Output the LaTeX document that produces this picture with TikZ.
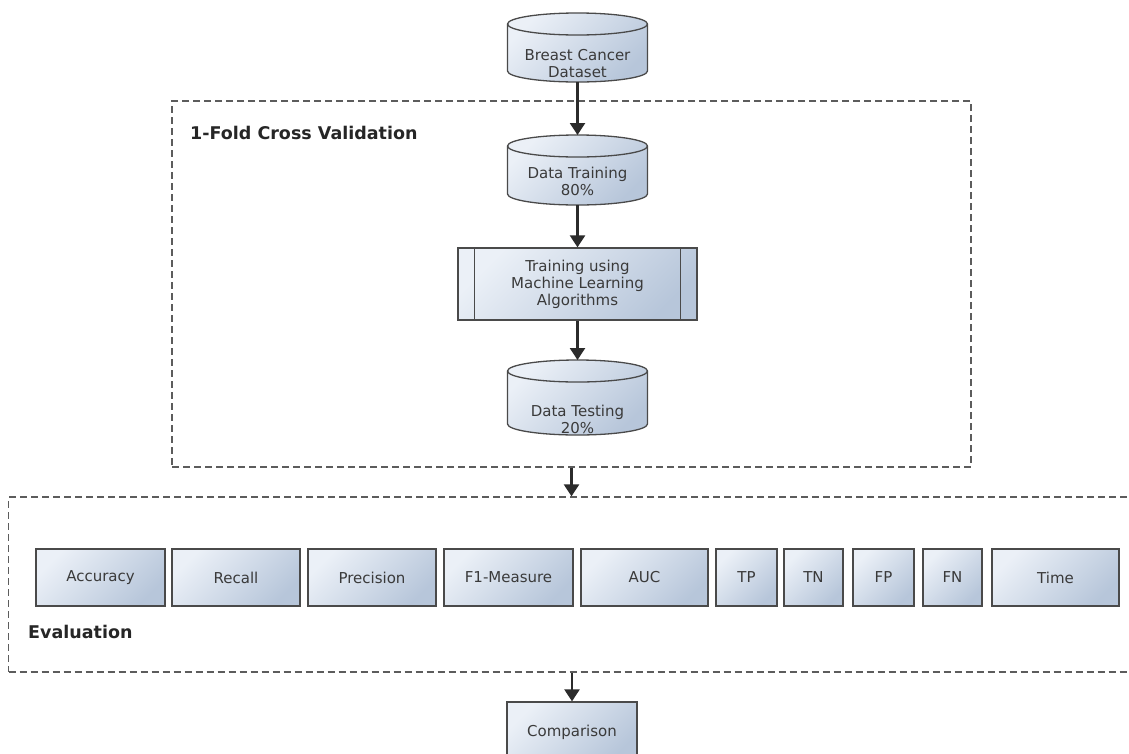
\documentclass[tikz,border=0pt]{standalone}
\usepackage{fontspec}
\setmainfont{DejaVu Sans}
\usetikzlibrary{arrows.meta,calc}
\definecolor{boxline}{HTML}{4A4A4A}
\definecolor{fillA}{HTML}{EBF0F7}
\definecolor{fillB}{HTML}{B7C6DA}
\definecolor{txt}{HTML}{3A3A3A}
\definecolor{dashc}{HTML}{5C5C5C}
\definecolor{arr}{HTML}{2B2B2B}
\newcommand{\drawcyl}[1]{%
  \draw[cylpath] ([yshift=-11pt]#1.north west) -- ([yshift=11pt]#1.south west)
    arc[start angle=180,end angle=360,x radius=70pt,y radius=11pt]
    -- ([yshift=-11pt]#1.north east)
    arc[start angle=0,end angle=180,x radius=70pt,y radius=11pt] -- cycle;
  \draw[cylline] ([yshift=-11pt]#1.north west)
    arc[start angle=180,end angle=360,x radius=70pt,y radius=11pt];}
\begin{document}
\begin{tikzpicture}[x=1pt,y=1pt,
  boxfont/.style={font=\fontsize{15}{17}\selectfont, text=txt},
  mbox/.style={draw=boxline, line width=1.3pt, top color=fillA, bottom color=fillB,
    shading angle=45, minimum height=57pt, inner sep=0pt, align=center, boxfont},
  cylnode/.style={minimum width=140pt, inner sep=0pt, outer sep=0pt},
  cylpath/.style={draw=boxline, line width=1.3pt, top color=fillA, bottom color=fillB, shading angle=45},
  cylline/.style={draw=boxline, line width=1.3pt},
  cyltext/.style={align=center, inner sep=0pt, boxfont},
  dbox/.style={draw=dashc, line width=1.3pt, dash pattern=on 7pt off 4pt, inner sep=0pt},
  lbl/.style={font=\fontsize{17.5}{20}\selectfont\bfseries, text=black!85, inner sep=0pt},
  arrowst/.style={draw=arr, line width=2.4pt, -{Triangle[length=12pt,width=15pt]}}]
\useasboundingbox (0,0) rectangle (1129,-753);
\clip (0,0) rectangle (1129,-753);
\fill[white] (0,0) rectangle (1129,-753);

% dashed containers
\node[dbox, minimum width=799pt, minimum height=366pt] (fold) at (571.5,-284) {};
\node[dbox, minimum width=1126pt, minimum height=175pt] (eval) at (571.5,-584.5) {};
\node[lbl, anchor=base west] (lfold) at (190,-139) {1-Fold Cross Validation};
\node[lbl, anchor=base west] (leval) at (28,-638) {Evaluation};

% cylinders
\node[cylnode, minimum height=69pt] (bcd) at (577.5,-47.5) {};
\drawcyl{bcd}
\node[cyltext] (bcdt) at (577.5,-64) {Breast Cancer\\Dataset};

\node[cylnode, minimum height=70pt] (dtr) at (577.5,-170) {};
\drawcyl{dtr}
\node[cyltext] (dtrt) at (577.5,-181.5) {Data Training\\80\%};

\node[mbox, minimum width=239pt, minimum height=72pt] (train) at (577.5,-284) {Training using\\Machine Learning\\Algorithms};
\draw[cylline] ([xshift=17pt]train.north west) -- ([xshift=17pt]train.south west);
\draw[cylline] ([xshift=-17pt]train.north east) -- ([xshift=-17pt]train.south east);

\node[cylnode, minimum height=75pt] (dte) at (577.5,-397.5) {};
\drawcyl{dte}
\node[cyltext] (dtet) at (577.5,-419) {Data Testing\\20\%};

% metric boxes
\node[mbox, minimum width=129pt] (acc) at (100.5,-577.5) {Accuracy};
\node[mbox, minimum width=128pt] (rec) at (236,-577.5) {Recall};
\node[mbox, minimum width=128pt] (pre) at (372,-577.5) {Precision};
\node[mbox, minimum width=129pt] (f1) at (508.5,-577.5) {F1-Measure};
\node[mbox, minimum width=127pt] (auc) at (644.5,-577.5) {AUC};
\node[mbox, minimum width=61pt] (tp) at (746.5,-577.5) {TP};
\node[mbox, minimum width=59pt] (tn) at (813.5,-577.5) {TN};
\node[mbox, minimum width=61pt] (fp) at (883.5,-577.5) {FP};
\node[mbox, minimum width=59pt] (fn) at (952.5,-577.5) {FN};
\node[mbox, minimum width=127pt] (time) at (1055.5,-577.5) {Time};

\node[mbox, minimum width=130pt, minimum height=60pt] (comp) at (572,-732) {Comparison};

% arrows
\draw[arrowst] (bcd.south) -- (dtr.north);
\draw[arrowst] (dtr.south) -- (train.north);
\draw[arrowst] (train.south) -- (dte.north);
\draw[arrowst] (fold.south) -- (eval.north);
\draw[arrowst] (comp.north |- eval.south) -- (comp.north);
\end{tikzpicture}
\end{document}
